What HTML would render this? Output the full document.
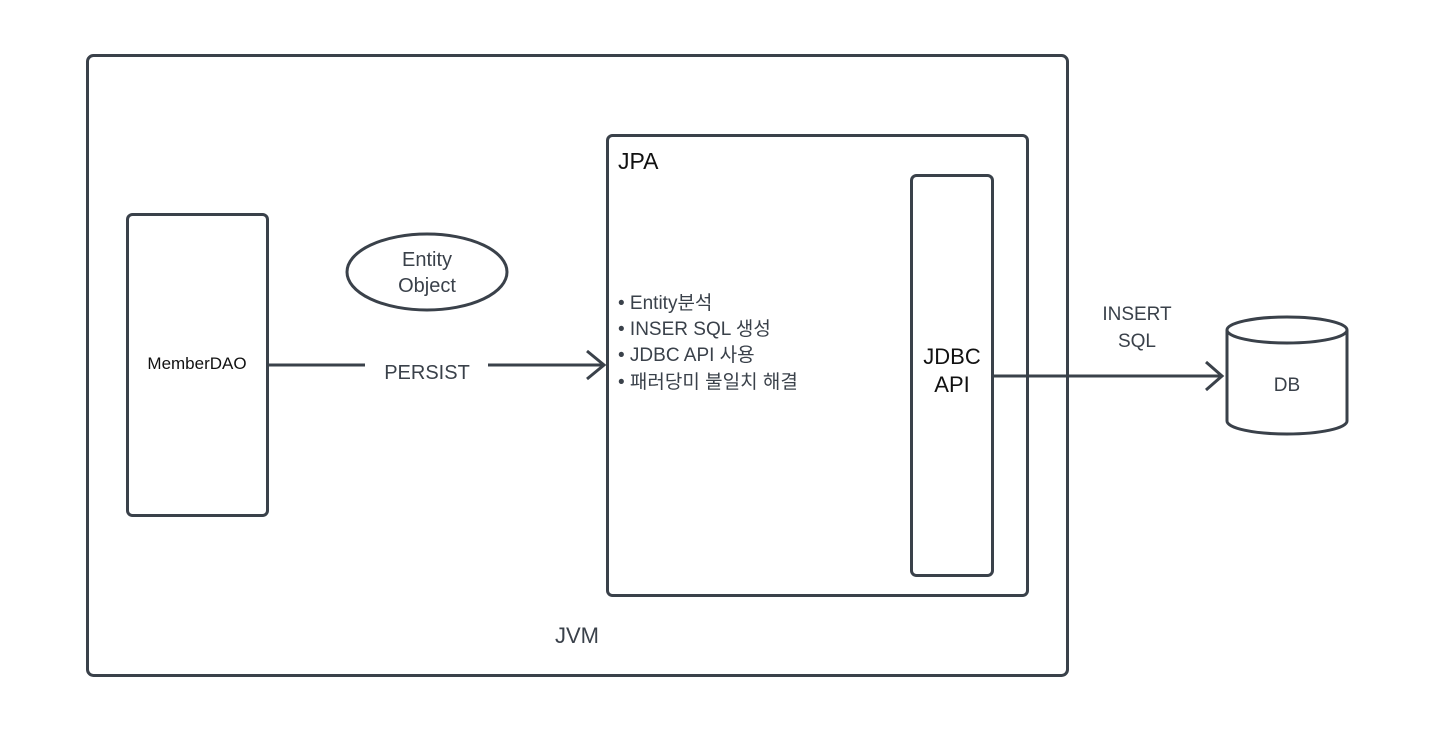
<!DOCTYPE html>
<html><head><meta charset="utf-8"><style>
html,body{margin:0;padding:0;background:#fff;}
svg{display:block;}
text{font-family:"Liberation Sans","Noto Sans CJK KR",sans-serif;}
</style></head><body>
<svg width="1433" height="729" viewBox="0 0 1433 729" xmlns="http://www.w3.org/2000/svg">
<g fill="none" stroke="#3a414a" stroke-width="3">
<rect x="87.5" y="55.5" width="980" height="620" rx="6"/>
<rect x="127.5" y="214.5" width="140" height="301" rx="5"/>
<ellipse cx="427" cy="272" rx="80" ry="38"/>
<rect x="607.5" y="135.5" width="420" height="460" rx="5"/>
<rect x="911.5" y="175.5" width="81" height="400" rx="5"/>
<line x1="268" y1="365" x2="365" y2="365"/>
<line x1="488" y1="365" x2="604" y2="365"/>
<polyline points="587,351 604,365 587,379"/>
<line x1="993" y1="376" x2="1222" y2="376"/>
<polyline points="1206,362 1222,376 1206,390"/>
<path d="M1227,330 L1227,421 A60,13 0 0 0 1347,421 L1347,330"/>
<ellipse cx="1287" cy="330" rx="60" ry="13"/>
</g>
<g fill="#3a414a" font-size="19">
<text x="427" y="266" text-anchor="middle" font-size="20">Entity</text>
<text x="427" y="292" text-anchor="middle" font-size="20">Object</text>
<text x="197" y="369" text-anchor="middle" font-size="17" fill="#111">MemberDAO</text>
<text x="427" y="379" text-anchor="middle" font-size="20">PERSIST</text>
<text x="618" y="169" font-size="23" fill="#111">JPA</text>
<text x="618" y="309">•  Entity분석</text>
<text x="618" y="335">• INSER SQL 생성</text>
<text x="618" y="361">• JDBC API 사용</text>
<text x="618" y="388">• 패러당미 불일치 해결</text>
<text x="952" y="364" text-anchor="middle" font-size="22" fill="#111">JDBC</text>
<text x="952" y="392" text-anchor="middle" font-size="22" fill="#111">API</text>
<text x="577" y="643" text-anchor="middle" font-size="22">JVM</text>
<text x="1137" y="320" text-anchor="middle">INSERT</text>
<text x="1137" y="347" text-anchor="middle">SQL</text>
<text x="1287" y="391" text-anchor="middle">DB</text>
</g>
</svg>
</body></html>
